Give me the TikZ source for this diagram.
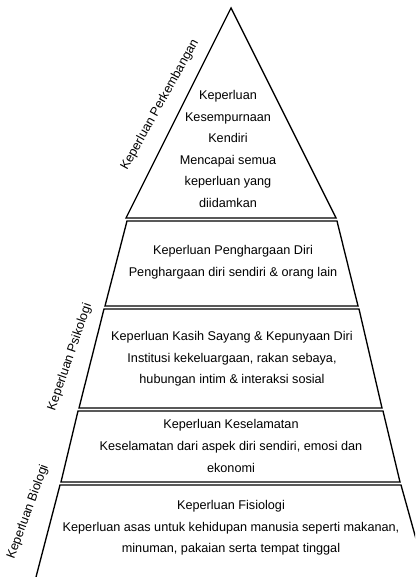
\documentclass[tikz,border=0pt]{standalone}
\usepackage{fontspec}
\setmainfont{Liberation Sans}
\tikzset{
  lapis/.style={draw, line width=1pt, fill=white},
  isi/.style={align=center, font=\fontsize{9.5}{16.2}\selectfont},
  sisi/.style={font=\fontsize{9.5}{11}\selectfont},
}
\begin{document}
\begin{tikzpicture}[x=0.75pt,y=-0.75pt]
  \useasboundingbox (0,0) rectangle (415,577);
  \clip (0,0) rectangle (415,577);
  \draw[lapis] (231,8) -- (336,218) -- (126,218) -- cycle;
  \draw[lapis] (127,221) -- (337,221) -- (358,306) -- (105,306) -- cycle;
  \draw[lapis] (104,309) -- (359,309) -- (382,408) -- (79,408) -- cycle;
  \draw[lapis] (78,411) -- (383,411) -- (400,482) -- (61,482) -- cycle;
  \draw[lapis] (60,485) -- (401,485) -- (433,600) -- (30,600) -- cycle;
  \draw
    (228,149) node[isi] (kendiri){Keperluan\\Kesempurnaan\\Kendiri\\Mencapai semua\\keperluan yang\\diidamkan}
    (233,262) node[isi] (penghargaan){Keperluan Penghargaan Diri\\Penghargaan diri sendiri \& orang lain}
    (232,359) node[isi] (kasih){Keperluan Kasih Sayang \& Kepunyaan Diri\\Institusi kekeluargaan, rakan sebaya,\\hubungan intim \& interaksi sosial}
    (231,446) node[isi] (keselamatan){Keperluan Keselamatan\\Keselamatan dari aspek diri sendiri, emosi dan\\ekonomi}
    (231,528) node[isi] (fisiologi){Keperluan Fisiologi\\Keperluan asas untuk kehidupan manusia seperti makanan,\\minuman, pakaian serta tempat tinggal};
  \begin{scope}[sisi]
    \node[rotate=61] (perkembangan) at (160,105) {Keperluan Perkembangan};
    \node[rotate=71] (psikologi) at (70,357) {Keperluan Psikologi};
    \node[rotate=70] (biologi) at (28,512) {Keperluan Biologi};
  \end{scope}
\end{tikzpicture}
\end{document}
